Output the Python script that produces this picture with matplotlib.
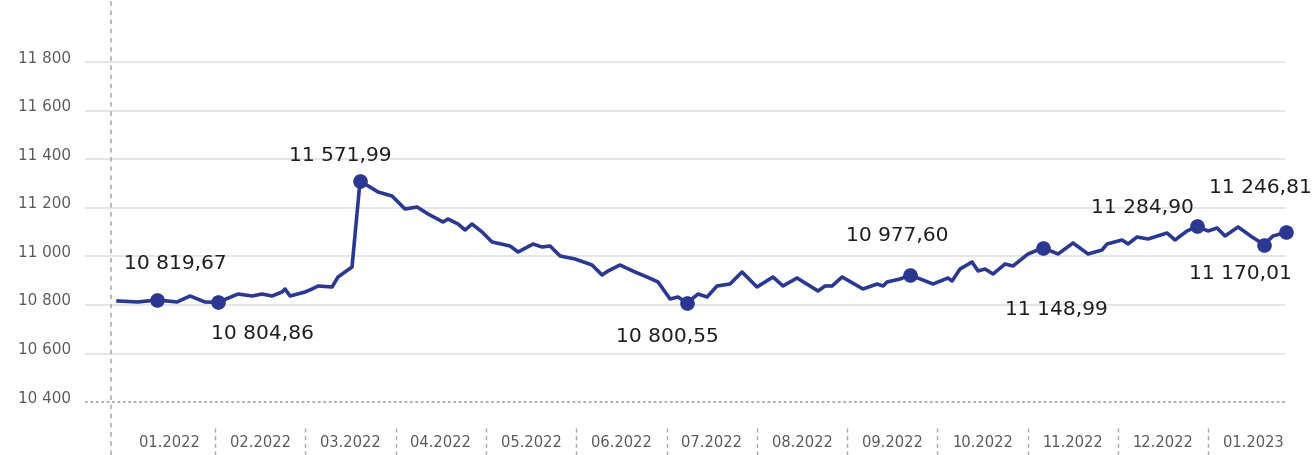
import numpy as np
import matplotlib
matplotlib.use("Agg")
from matplotlib import pyplot as plt
from matplotlib.transforms import ScaledTranslation

# months since 1 Jan 2022 and the index value at that moment
t = [-0.074, 0.147, 0.358, 0.579, 0.723, 0.889, 1.033, 1.255, 1.410, 1.520,
     1.631, 1.742, 1.775, 1.831, 1.997, 2.074, 2.141, 2.296, 2.362, 2.517,
     2.606, 2.805, 2.960, 3.104, 3.237, 3.359, 3.525, 3.580, 3.691, 3.769,
     3.846, 3.957, 4.068, 4.267, 4.356, 4.522, 4.621, 4.710, 4.821, 4.987,
     5.175, 5.286, 5.352, 5.485, 5.651, 5.784, 5.906, 6.039, 6.127, 6.227,
     6.349, 6.449, 6.559, 6.703, 6.836, 7.002, 7.179, 7.290, 7.445, 7.678,
     7.755, 7.833, 7.944, 8.176, 8.331, 8.398, 8.442, 8.586, 8.697, 8.951,
     9.117, 9.162, 9.250, 9.383, 9.450, 9.527, 9.616, 9.749, 9.837, 10.003,
     10.169, 10.336, 10.502, 10.668, 10.823, 10.878, 11.044, 11.111, 11.210, 11.332,
     11.543, 11.631, 11.764, 11.875, 11.997, 12.097, 12.185, 12.329, 12.484, 12.617,
     12.716, 12.860]
values = [10813.2, 10806.9, 10819.67, 10806.9, 10844.8, 10806.9, 10804.86, 10857.4, 10844.8, 10857.4,
          10844.8, 10870.1, 10889.0, 10844.8, 10870.1, 10889.0, 10908.0, 10901.7, 10964.9, 11028.1,
          11571.99, 11502.1, 11476.8, 11394.6, 11407.3, 11363.0, 11312.5, 11331.4, 11299.8, 11261.9,
          11299.8, 11249.3, 11186.1, 11160.8, 11122.9, 11173.4, 11154.5, 11160.8, 11097.6, 11078.6,
          11040.7, 10977.5, 11002.8, 11040.7, 10996.5, 10964.9, 10933.3, 10825.8, 10838.5, 10800.55,
          10857.4, 10838.5, 10908.0, 10920.6, 10996.5, 10901.7, 10964.9, 10908.0, 10958.6, 10876.4,
          10908.0, 10908.0, 10964.9, 10889.0, 10920.6, 10908.0, 10933.3, 10952.2, 10977.60, 10920.6,
          10958.6, 10939.6, 11015.4, 11059.7, 11002.8, 11015.4, 10983.8, 11047.0, 11034.4, 11110.2,
          11148.99, 11110.2, 11179.8, 11110.2, 11135.5, 11173.4, 11198.7, 11173.4, 11217.7, 11205.0,
          11242.9, 11198.7, 11255.6, 11284.90, 11255.6, 11274.6, 11224.0, 11280.9, 11217.7, 11170.01,
          11224.0, 11246.81]

# points that get a dot and a value label
marked = [2, 6, 20, 49, 68, 80, 93, 99, 101]
label_offsets = [(18, 37), (44, -30), (-20, 26), (-20, -33), (-13, 40),
                 (13, -61), (-55, 20), (-24, -28), (-26, 46)]

month_labels = ['01.2022', '02.2022', '03.2022', '04.2022', '05.2022', '06.2022', '07.2022',
                '08.2022', '09.2022', '10.2022', '11.2022', '12.2022', '01.2023']
ytick_labels = ['10 400', '10 600', '10 800', '11 000', '11 200', '11 400', '11 600', '11 800']

BLUE = '#2a3892'


def fmt(v):
	return f"{v:,.2f}".replace(',', ' ').replace('.', ',')


fig = plt.figure(figsize=(13.14, 4.56), dpi=100)
ax = fig.add_axes([85 / 1314, 0, 1200 / 1314, 1])
ax.set_xlim(-0.44, 12.849)
ax.set_ylim(9839.9, 12721.8)

for s in ax.spines.values():
	s.set_visible(False)

# horizontal grid, bottom one dotted
grid_pos = 10787.9 + 307.0 * np.arange(len(ytick_labels)) - 2 * 307.0
for i, g in enumerate(grid_pos):
	if i == 0:
		ax.axhline(g, color='#a8a8a8', lw=1.3, ls=(0, (1.5, 1.5)), zorder=1)
	else:
		ax.axhline(g, color='#e2e2e2', lw=1.2, zorder=1)

ax.set_yticks(grid_pos)
ax.set_yticklabels(ytick_labels, fontsize=11, color='#5a5a5a')
ax.tick_params(axis='y', length=0, pad=10)
for lab in ax.get_yticklabels():
	lab.set_transform(lab.get_transform() + ScaledTranslation(0, 6.5 / 100, fig.dpi_scale_trans))

ax.set_xticks([])

# dashed vertical axis line
ax.axvline(-0.152, color='#a8a8a8', lw=1.1, ls=(0, (3, 3)), zorder=1)

# month separators and labels along the bottom
for k in range(1, len(month_labels)):
	ax.axvline(k, ymin=0, ymax=29 / 456, color='#a8a8a8', lw=1.0, ls=(0, (3, 2.5)))
for k, m in enumerate(month_labels):
	ax.text(k + 0.5, 1 - 443 / 456, m, transform=ax.get_xaxis_transform(),
			ha='center', va='center', fontsize=10.5, color='#575757')

ax.plot(t, values, color=BLUE, lw=2.6, solid_joinstyle='round', zorder=3, clip_on=False)

mt = [t[i] for i in marked]
mv = [values[i] for i in marked]
ax.plot(mt, mv, 'o', color=BLUE, ms=9.5, zorder=4, clip_on=False)

for x, v, (dx, dy) in zip(mt, mv, label_offsets):
	ax.annotate(fmt(v), (x, v), xytext=(dx, dy), textcoords='offset pixels',
				ha='center', va='center', fontsize=14.5, color='#1e1e1e', annotation_clip=False)

fig.savefig('out.png', dpi=100)
